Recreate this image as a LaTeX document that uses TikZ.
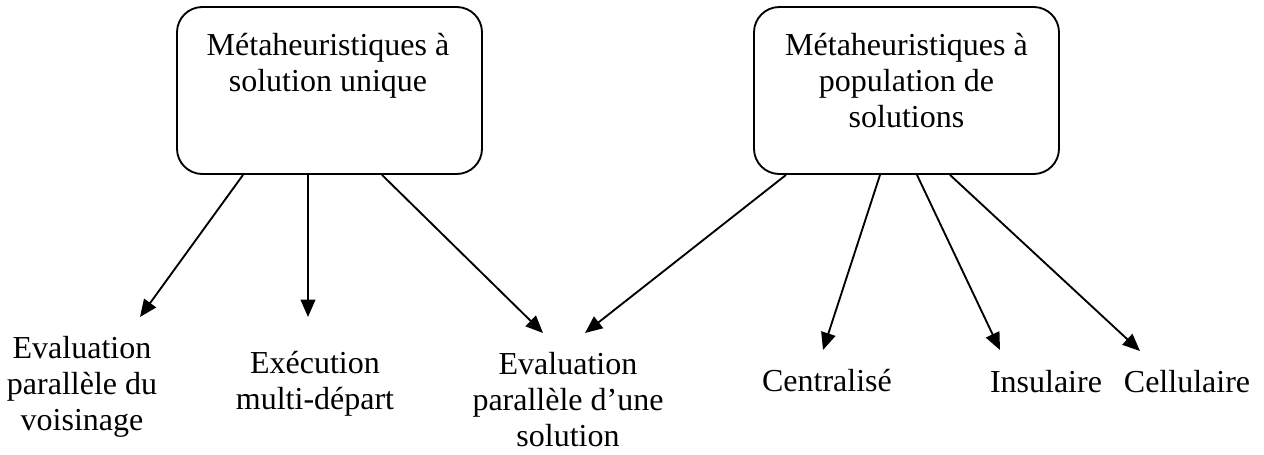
\documentclass[tikz,border=0pt]{standalone}
\usepackage{fontspec}
\setmainfont{Liberation Serif}
\usetikzlibrary{arrows.meta,calc}

\tikzset{
  family/.style={draw, line width=1.4pt, rounded corners=19pt, inner sep=0pt,
    minimum width=228.75pt, minimum height=125.25pt},
  caption/.style={anchor=base, align=center, inner sep=0pt,
    font=\fontsize{24pt}{27pt}\selectfont},
  link/.style={line width=1.4pt, -{Triangle[length=13pt,width=11pt]}}
}

\begin{document}
\begin{tikzpicture}[x=0.75pt,y=-0.75pt]
  \useasboundingbox (0,0) rectangle (1264,454);

  % the two families of metaheuristics (captions placed by their last baseline)
  \node[family] (b1) at (329.5,90.5) {};
  \node[family] (b2) at (906.5,90.5) {};
  \node[caption] (t1) at (328,91) {Métaheuristiques à\\solution unique};
  \node[caption] (t2) at (906.5,127) {Métaheuristiques à\\population de\\solutions};

  % parallel models
  \node[caption] (l1) at (82,430) {Evaluation\\parallèle du\\voisinage};
  \node[caption] (l2) at (315,409) {Exécution\\multi-départ};
  \node[caption] (l3) at (568,446) {Evaluation\\parallèle d’une\\solution};
  \node[caption] (l4) at (827,391) {Centralisé};
  \node[caption] (l5) at (1046,392) {Insulaire};
  \node[caption] (l6) at (1187,392) {Cellulaire};

  % single-solution branches
  \draw[link] ($(b1.south)+(-86.5,0)$) -- ($(l1.base)+(58,-113)$);
  \draw[link] ($(b1.south)+(-21.5,0)$) -- ($(l2.base)+(-7,-92)$);
  \draw[link] ($(b1.south)+(52.5,0)$)  -- ($(l3.base)+(-25,-113)$);

  % population branches
  \draw[link] ($(b2.south)+(-120.5,0)$) -- ($(l3.base)+(17,-113)$);
  \draw[link] ($(b2.south)+(-26.5,0)$)  -- ($(l4.base)+(-4,-41)$);
  \draw[link] ($(b2.south)+(10.5,0)$)   -- ($(l5.base)+(-46,-42)$);
  \draw[link] ($(b2.south)+(43.5,0)$)   -- ($(l6.base)+(-47,-41)$);
\end{tikzpicture}
\end{document}
